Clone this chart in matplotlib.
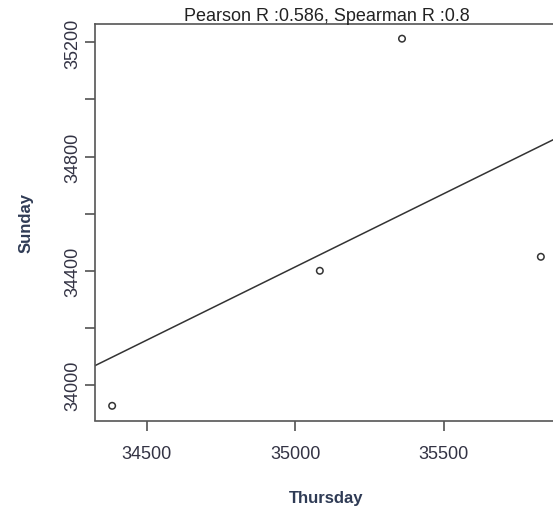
import numpy as np
import matplotlib.pyplot as plt

# values
thursday = [34383, 35083, 35360, 35828]
sunday = [33927, 34400, 35213, 34449]
title = "Pearson R :0.586, Spearman R :0.8"
xticks = [34500, 35000, 35500]
yticks = [34000, 34200, 34400, 34600, 34800, 35000, 35200]
ylabeled = [34000, 34400, 34800, 35200]

plt.rcParams['font.family'] = ['Liberation Sans', 'DejaVu Sans']

fig = plt.figure(figsize=(5.53, 5.10), dpi=100)
ax = fig.add_axes([95/553, 88.5/510, 463/553, 396.5/510])

x = np.array(thursday, dtype=float)
y = np.array(sunday, dtype=float)

# R-style 4% padding
xr = x.max() - x.min()
yr = y.max() - y.min()
ax.set_xlim(x.min() - 0.04*xr, x.max() + 0.04*xr)
ax.set_ylim(y.min() - 0.04*yr, y.max() + 0.04*yr)

ax.scatter(x, y, s=22, facecolors='none', edgecolors='#333333', linewidths=1.1, zorder=3)

b, a = np.polyfit(x, y, 1)
xl = np.array(ax.get_xlim())
ax.plot(xl, a + b*xl, color='#333333', lw=1.1)
ax.set_xlim(xl)

ax.set_xticks(xticks)
ax.set_xticklabels([str(v) for v in xticks])
ax.set_yticks(yticks)
ax.set_yticklabels([str(v) if v in ylabeled else '' for v in yticks], rotation=90, va='center')

ax.tick_params(length=7, width=1.1, color='#444444', labelcolor='#333344', labelsize=13, pad=11)
ax.tick_params(axis='y', pad=3)
for s in ax.spines.values():
    s.set_color('#555555')
    s.set_linewidth(1.2)
ax.spines['right'].set_visible(False)

ax.set_xlabel('Thursday', fontsize=12, fontweight='bold', color='#2f3b55', labelpad=20)
ax.set_ylabel('Sunday', fontsize=12, fontweight='bold', color='#2f3b55', labelpad=22)
ax.set_title(title, fontsize=13, color='#222222', pad=0)

fig.savefig('out.png', dpi=100)
